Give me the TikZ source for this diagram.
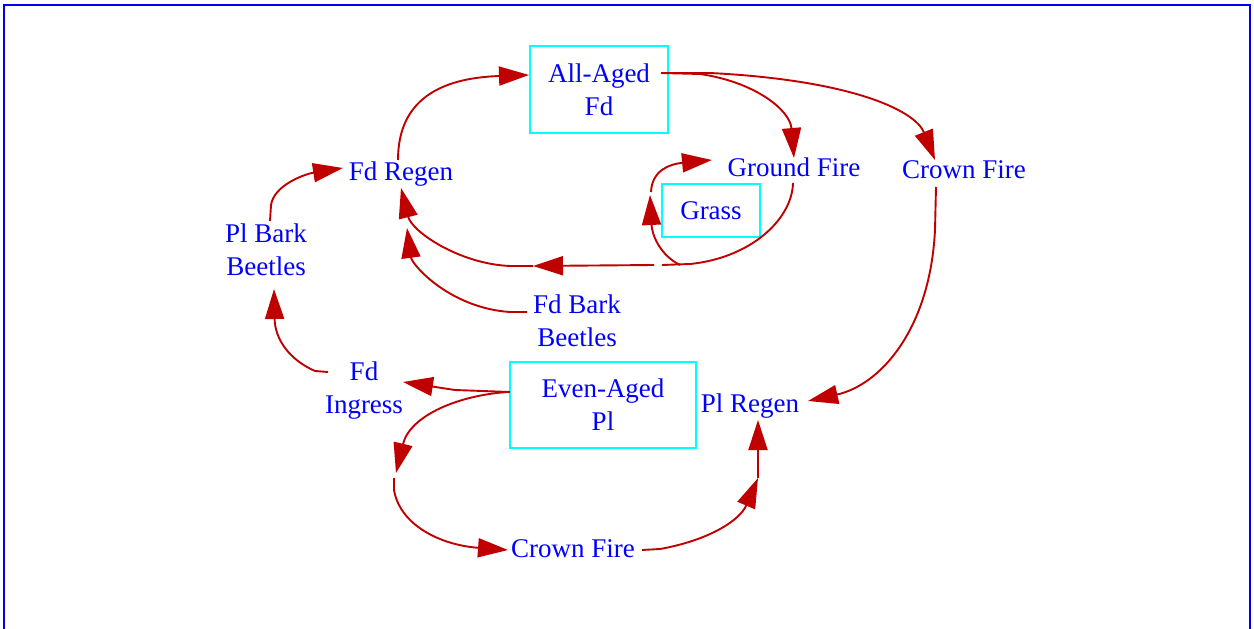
\documentclass[tikz,border=0pt]{standalone}
\usepackage{fontspec}
\setmainfont{Liberation Serif}
\usetikzlibrary{arrows.meta}
\definecolor{linkred}{RGB}{192,0,0}
\definecolor{txtblue}{RGB}{0,0,255}
\definecolor{boxcyan}{RGB}{0,255,255}
\definecolor{framblue}{RGB}{0,0,235}
\begin{document}
\begin{tikzpicture}[x=1pt,y=-1pt,
  lbl/.style={text=txtblue, font=\fontsize{27pt}{33pt}\selectfont, inner sep=0pt, align=center},
  stockbox/.style={lbl, draw=boxcyan, line width=2pt},
  link/.style={draw=linkred, line width=1.9pt, -{Triangle[length=30pt,width=19pt]}},
  plainlink/.style={draw=linkred, line width=1.9pt}]
\useasboundingbox (0,0) rectangle (1254,629);
\draw[framblue, line width=2pt] (4,629) -- (4,5) -- (1250,5) -- (1250,629);

% stocks
\node[stockbox, minimum width=138pt, minimum height=87pt] (allaged) at (599,89.5) {All-Aged\\Fd};
\node[stockbox, minimum width=186pt, minimum height=86pt] (evenaged) at (603,405) {Even-Aged\\Pl};
\node[stockbox, minimum width=98pt, minimum height=53pt] (grass) at (711,210.5) {Grass};

% variables
\node[lbl, anchor=base] (groundfire) at (794,176) {Ground Fire};
\node[lbl, anchor=base] (crownfireA) at (964,178) {Crown Fire};
\node[lbl, anchor=base] (fdregen) at (401,180) {Fd Regen};
\node[lbl] (plbark) at (266,250) {Pl Bark\\Beetles};
\node[lbl] (fdbark) at (577,320.5) {Fd Bark\\Beetles};
\node[lbl] (fdingress) at (364,391) {Fd\\Ingress};
\node[lbl, anchor=base] (plregen) at (750,412) {Pl Regen};
\node[lbl, anchor=base] (crownfireB) at (573,557) {Crown Fire};

% connectors
% Fd Regen -> All-Aged Fd
\draw[link] (398,160) .. controls (398,100) and (440,78) .. (529,75);
% All-Aged Fd -> Ground Fire
\draw[link] (661,73) -- (700,74) .. controls (755,82) and (790,110) .. (794,158);
% All-Aged Fd -> Crown Fire
\draw[link] (661,73) -- (710,73) .. controls (850,80) and (915,110) .. (935,160);
% Crown Fire -> Pl Regen
\draw[link] (936,187) -- (935,230) .. controls (930,330) and (880,385) .. (808,401);
% Ground Fire -> Fd Regen
\draw[plainlink] (793,183) .. controls (792,220) and (750,258) .. (690,264) -- (662,265);
\draw[link] (654,265) -- (533,266);
\draw[link] (533,266) -- (510,266) .. controls (460,264) and (412,232) .. (401,188);
% loop round Grass
\draw[link] (680,265) .. controls (660,255) and (652,235) .. (650,195);
\draw[link] (651,192) .. controls (652,170) and (670,164) .. (712,160);
% Fd Bark Beetles -> Fd Regen
\draw[link] (527,312) -- (510,312) .. controls (450,308) and (412,265) .. (407,228);
% Pl Bark Beetles -> Fd Regen
\draw[link] (270,221) -- (271,205) .. controls (274,185) and (305,174) .. (343,168);
% Fd Ingress -> Pl Bark Beetles
\draw[link] (328,372) -- (315,371) .. controls (290,360) and (275,340) .. (274,289);
% Even-Aged Pl -> Fd Ingress
\draw[link] (510,392) -- (455,390) -- (403,382);
% Even-Aged Pl -> Crown Fire
\draw[link] (508,392) .. controls (460,395) and (410,415) .. (396,473);
\draw[link] (394,478) -- (394,490) .. controls (400,525) and (440,545) .. (508,550);
% Crown Fire -> Pl Regen
\draw[link] (642,550) -- (660,549) .. controls (710,540) and (740,520) .. (758,478);
\draw[link] (758,478) -- (758,420);
\end{tikzpicture}
\end{document}
